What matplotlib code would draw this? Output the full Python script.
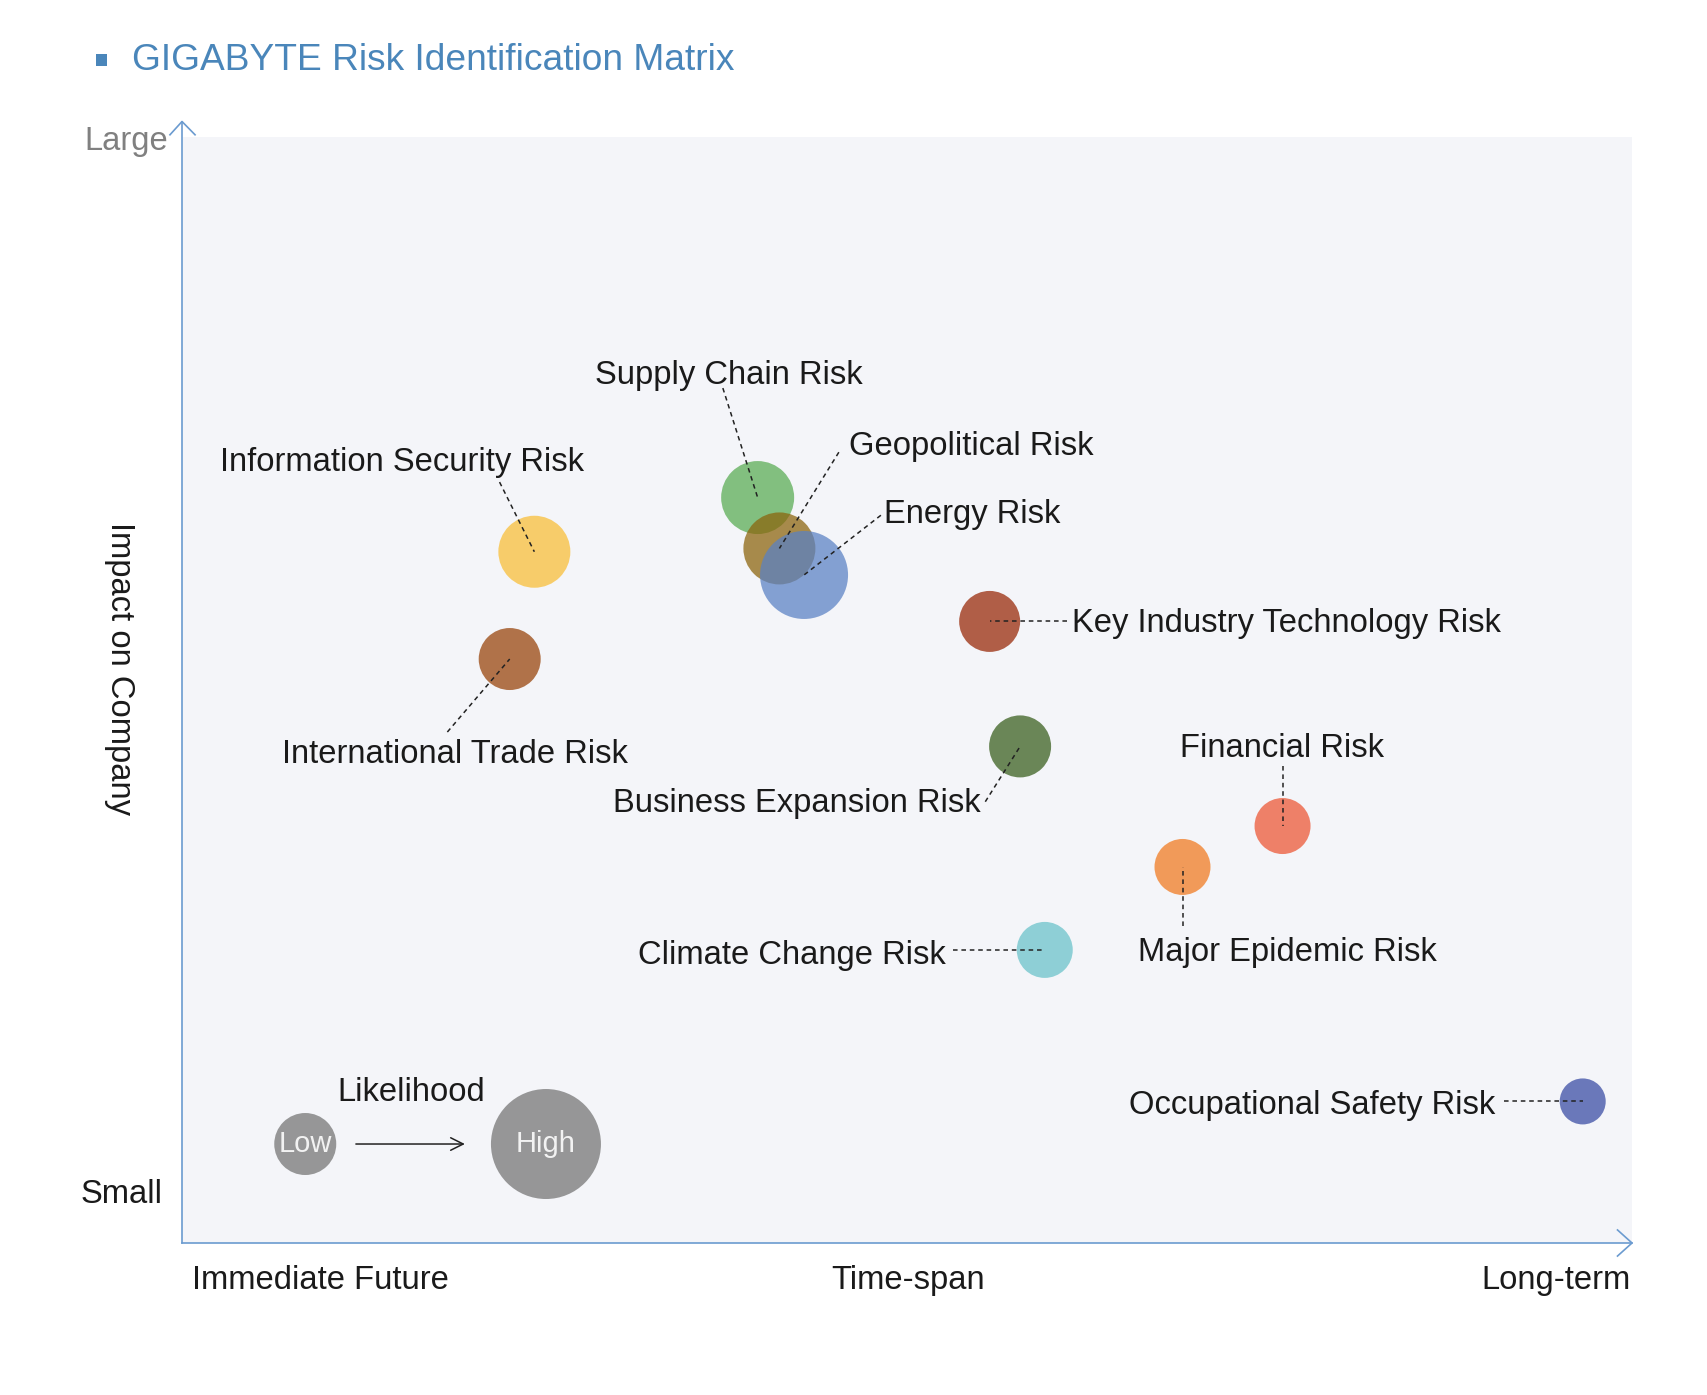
import matplotlib
matplotlib.use('AGG')

import matplotlib.pyplot as plt
from matplotlib.patches import Rectangle

plt.rcParams['font.family'] = ['Liberation Sans', 'DejaVu Sans']

# Risk bubbles: time-span (0-10), impact (0-10), likelihood (bubble radius, px)
risks = ['Information Security Risk', 'Supply Chain Risk', 'Geopolitical Risk', 'Energy Risk',
         'International Trade Risk', 'Key Industry Technology Risk', 'Business Expansion Risk',
         'Financial Risk', 'Major Epidemic Risk', 'Climate Change Risk', 'Occupational Safety Risk']
timespan = [2.43, 3.97, 4.12, 4.29, 2.26, 5.57, 5.78, 7.59, 6.90, 5.95, 9.66]
impact = [6.25, 6.74, 6.28, 6.04, 5.28, 5.62, 4.49, 3.77, 3.40, 2.65, 1.28]
likelihood = [36, 36.5, 36, 44, 31, 30.5, 31, 28, 28, 28, 23]
colors = ['#F9BE35', '#58AB52', '#8B630B', '#5A81C4', '#974208', '#972605',
          '#375D1B', '#EC5533', '#F1791E', '#68C2C9', '#374AA3']

# likelihood legend
legend_labels = ['Low', 'High']
legend_x = [0.85, 2.51]
legend_y = [0.895, 0.895]
legend_r = [31, 55]

# label layout: (x, y, ha, leader start x, leader start y)
label_layout = {
    'Information Security Risk': (0.26, 7.06, 'left', 2.19, 6.88),
    'Supply Chain Risk': (2.85, 7.845, 'left', 3.73, 7.73),
    'Geopolitical Risk': (4.60, 7.205, 'left', 4.53, 7.15),
    'Energy Risk': (4.84, 6.585, 'left', 4.82, 6.58),
    'International Trade Risk': (0.69, 4.42, 'left', 1.83, 4.62),
    'Key Industry Technology Risk': (6.14, 5.60, 'left', 6.10, 5.62),
    'Business Expansion Risk': (5.51, 3.97, 'right', 5.54, 3.99),
    'Financial Risk': (6.88, 4.47, 'left', 7.59, 4.31),
    'Major Epidemic Risk': (6.59, 2.63, 'left', 6.90, 2.87),
    'Climate Change Risk': (5.27, 2.60, 'right', 5.32, 2.65),
    'Occupational Safety Risk': (9.06, 1.24, 'right', 9.12, 1.28),
}

W, H = 1708, 1395
fig = plt.figure(figsize=(W / 100, H / 100), dpi=100)
ax = fig.add_axes([182 / W, 1 - 1243 / H, 1450 / W, 1106 / H])
ax.set_facecolor('#F4F5F9')
ax.set_xlim(0, 10)
ax.set_ylim(0, 10)
ax.set_xticks([])
ax.set_yticks([])
for s in ax.spines.values():
    s.set_visible(False)

axis_color = '#6B9BD0'
# axes with open arrow heads
ax.plot([0, 0], [0, 10.14], color=axis_color, lw=1.2, clip_on=False)
ax.plot([-0.083, 0, 0.09], [10.02, 10.14, 10.02], color=axis_color, lw=1.2, clip_on=False)
ax.plot([0, 10], [0, 0], color=axis_color, lw=1.2, clip_on=False)
ax.plot([9.90, 10, 9.90], [0.118, 0, -0.118], color=axis_color, lw=1.2, clip_on=False)

def px_to_size(r):
    return (2 * r * 0.72) ** 2

ax.scatter(timespan, impact, s=[px_to_size(r) for r in likelihood], c=colors,
           alpha=0.73, linewidths=0, zorder=3)

fs = 23.6
text_color = '#1A1A1A'
for name, xv, yv in zip(risks, timespan, impact):
    lx, ly, ha, sx, sy = label_layout[name]
    ax.text(lx, ly, name, fontsize=fs, ha=ha, va='center', color=text_color, zorder=5)
    ax.plot([sx, xv], [sy, yv], color='#222222', lw=1.1, ls=(0, (3, 2.5)), zorder=4)

# likelihood legend
ax.scatter(legend_x, legend_y, s=[px_to_size(r) for r in legend_r], c='#737373',
           alpha=0.73, linewidths=0, zorder=3)
for lab, xv, yv in zip(legend_labels, legend_x, legend_y):
    ax.text(xv, yv, lab, fontsize=21, ha='center', va='center', color='#F2F2F2', zorder=5)
ax.text(1.07, 1.36, 'Likelihood', fontsize=fs, ha='left', va='center', color=text_color)
ax.annotate('', xy=(1.97, 0.895), xytext=(1.18, 0.895),
            arrowprops=dict(arrowstyle='->,head_length=0.9,head_width=0.45', color='#222222', lw=1.1))

# axis end labels
ax.text(-0.097, 9.96, 'Large', fontsize=fs, ha='right', va='center', color='#808080', clip_on=False)
ax.text(-0.131, 0.44, 'Small', fontsize=fs, ha='right', va='center', color=text_color, clip_on=False)
ax.text(-0.43, 5.19, 'Impact on Company', fontsize=fs, ha='center', va='center', rotation=270,
        color=text_color, clip_on=False)
ax.text(0.07, -0.34, 'Immediate Future', fontsize=fs, ha='left', va='center', color=text_color, clip_on=False)
ax.text(5.01, -0.34, 'Time-span', fontsize=fs, ha='center', va='center', color=text_color, clip_on=False)
ax.text(9.99, -0.34, 'Long-term', fontsize=fs, ha='right', va='center', color=text_color, clip_on=False)

# title
title_color = '#4A86BA'
fig.patches.append(Rectangle((96 / W, 1 - 66 / H), 11 / W, 12 / H, transform=fig.transFigure,
                             facecolor=title_color, edgecolor='none'))
fig.text(132 / W, 1 - 61 / H, 'GIGABYTE Risk Identification Matrix', fontsize=26.7,
         color=title_color, ha='left', va='center')

fig.savefig('out.png', dpi=100, facecolor='white')
